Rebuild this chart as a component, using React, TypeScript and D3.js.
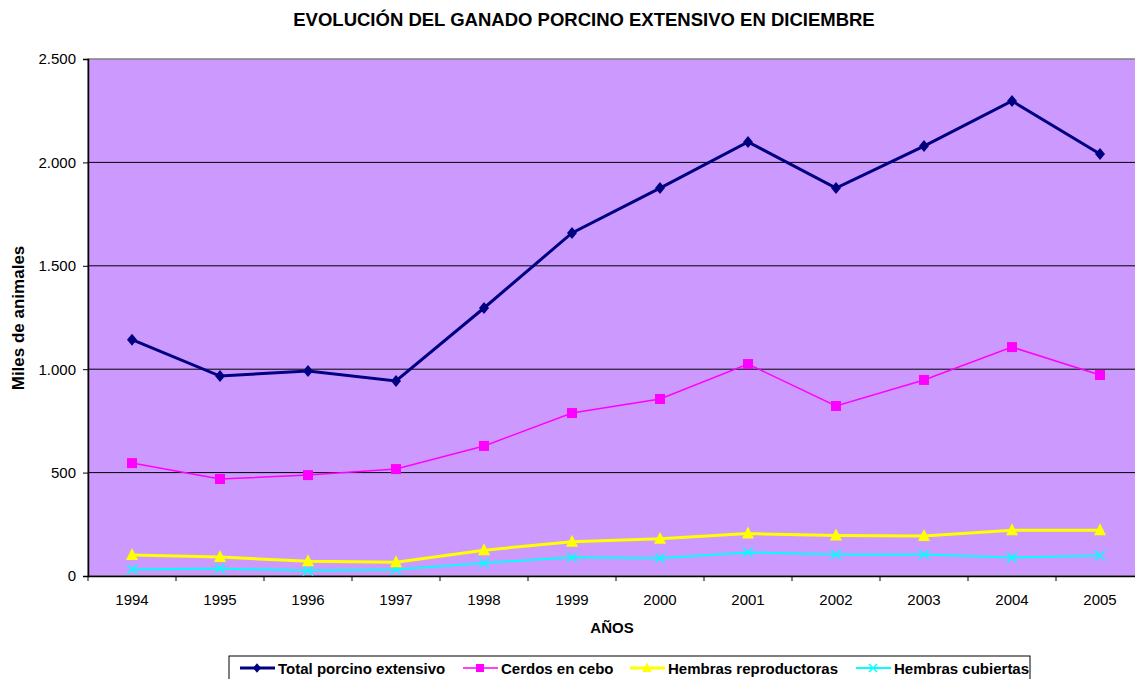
import React, { useEffect, useRef } from "react";
import * as d3 from "d3";

const years = ["1994", "1995", "1996", "1997", "1998", "1999", "2000", "2001", "2002", "2003", "2004", "2005"];
const totalPorcino = [1143, 967, 991, 943, 1296, 1659, 1876, 2099, 1876, 2079, 2297, 2041];
const cerdosCebo = [546, 469, 488, 517, 629, 788, 856, 1025, 822, 948, 1107, 972];
const hembrasRepro = [101, 92, 71, 66, 125, 166, 180, 205, 196, 193, 221, 221];
const hembrasCubiertas = [32, 36, 26, 31, 63, 91, 86, 114, 104, 104, 89, 99];
const yTicks = [0, 500, 1000, 1500, 2000, 2500];

const series = [
  { name: "Total porcino extensivo", values: totalPorcino, color: "#000080", width: 3, marker: "diamond" },
  { name: "Cerdos en cebo", values: cerdosCebo, color: "#FF00FF", width: 1.5, marker: "square" },
  { name: "Hembras reproductoras", values: hembrasRepro, color: "#FFFF00", width: 3, marker: "triangle" },
  { name: "Hembras cubiertas", values: hembrasCubiertas, color: "#00FFFF", width: 2, marker: "x" },
];

const fmt = (d: number) => d3.format(",")(d).replace(/,/g, ".");

function drawMarker(g: any, type: string, x: number, y: number, color: string, size = 1) {
  if (type === "diamond") {
    g.append("path")
      .attr("d", `M${x},${y - 6 * size}L${x + 5 * size},${y}L${x},${y + 6 * size}L${x - 5 * size},${y}Z`)
      .attr("fill", color);
  } else if (type === "square") {
    g.append("rect")
      .attr("x", x - 5 * size).attr("y", y - 5 * size)
      .attr("width", 10 * size).attr("height", 10 * size)
      .attr("fill", color);
  } else if (type === "triangle") {
    g.append("path")
      .attr("d", `M${x},${y - 7 * size}L${x + 6 * size},${y + 5 * size}L${x - 6 * size},${y + 5 * size}Z`)
      .attr("fill", color);
  } else {
    g.append("path")
      .attr("d", `M${x - 5 * size},${y - 5 * size}L${x + 5 * size},${y + 5 * size}M${x - 5 * size},${y + 5 * size}L${x + 5 * size},${y - 5 * size}`)
      .attr("stroke", color).attr("stroke-width", 1.5).attr("fill", "none");
  }
}

export default function App() {
  const svgRef = useRef<SVGSVGElement>(null);

  useEffect(() => {
    const svg = d3.select(svgRef.current);
    svg.selectAll("*").remove();

    const left = 88, top = 59, bottom = 576, right = 1144;
    const font = "'Liberation Sans', Arial, sans-serif";

    const x = d3.scaleBand().domain(years).range([left, right]);
    const y = d3.scaleLinear().domain([0, 2500]).range([bottom, top]);

    svg.append("rect").attr("width", 1135).attr("height", 679).attr("fill", "#fff");

    // title
    svg.append("text")
      .attr("x", 584).attr("y", 26)
      .attr("text-anchor", "middle")
      .attr("font-family", font).attr("font-weight", "bold").attr("font-size", 18.5)
      .text("EVOLUCIÓN DEL GANADO PORCINO EXTENSIVO EN DICIEMBRE");

    // plot area
    svg.append("rect")
      .attr("x", left).attr("y", top)
      .attr("width", right - left).attr("height", bottom - top)
      .attr("fill", "#CC99FF").attr("stroke", "#808080").attr("stroke-width", 1.5);

    // gridlines
    svg.append("g").selectAll("line")
      .data(yTicks.slice(1, -1))
      .join("line")
      .attr("x1", left).attr("x2", right)
      .attr("y1", (d) => y(d)).attr("y2", (d) => y(d))
      .attr("stroke", "#000").attr("stroke-width", 1);

    // y axis
    const yAxis = svg.append("g")
      .attr("transform", `translate(${left},0)`)
      .call(d3.axisLeft(y).tickValues(yTicks).tickSize(5).tickPadding(7).tickFormat((d) => fmt(d as number)));
    yAxis.select(".domain").attr("stroke", "#000").attr("stroke-width", 1.5);
    yAxis.selectAll("text").attr("font-family", font).attr("font-size", 15).attr("fill", "#000");

    // x axis
    const xAxis = svg.append("g")
      .attr("transform", `translate(0,${bottom})`)
      .call(d3.axisBottom(x).tickSize(0).tickPadding(18));
    xAxis.select(".domain").attr("stroke", "#000").attr("stroke-width", 1.5);
    xAxis.selectAll("text").attr("font-family", font).attr("font-size", 15).attr("fill", "#000");
    xAxis.append("g").selectAll("line")
      .data(d3.range(years.length + 1))
      .join("line")
      .attr("x1", (i) => left + i * x.bandwidth()).attr("x2", (i) => left + i * x.bandwidth())
      .attr("y1", 0).attr("y2", 5)
      .attr("stroke", "#000");

    // axis titles
    svg.append("text")
      .attr("x", 612).attr("y", 633)
      .attr("text-anchor", "middle")
      .attr("font-family", font).attr("font-weight", "bold").attr("font-size", 15)
      .text("AÑOS");
    svg.append("text")
      .attr("transform", "translate(24,318) rotate(-90)")
      .attr("text-anchor", "middle")
      .attr("font-family", font).attr("font-weight", "bold").attr("font-size", 17)
      .text("Miles de animales");

    const cx = (i: number) => (x(years[i]) as number) + x.bandwidth() / 2;

    // lines, drawn from back to front
    [...series].reverse().forEach((s) => {
      const line = d3.line<number>().x((_, i) => cx(i)).y((d) => y(d));
      svg.append("path")
        .datum(s.values)
        .attr("fill", "none")
        .attr("stroke", s.color)
        .attr("stroke-width", s.width)
        .attr("d", line);
      const g = svg.append("g");
      s.values.forEach((v, i) => drawMarker(g, s.marker, cx(i), y(v), s.color));
    });

    // legend
    const legend = svg.append("g");
    legend.append("rect")
      .attr("x", 229).attr("y", 656).attr("width", 801).attr("height", 30)
      .attr("fill", "#fff").attr("stroke", "#000").attr("stroke-width", 1);
    const legendX = [240, 463, 630, 856];
    series.forEach((s, i) => {
      const lx = legendX[i];
      const ly = 668;
      legend.append("line")
        .attr("x1", lx).attr("x2", lx + 35).attr("y1", ly).attr("y2", ly)
        .attr("stroke", s.color).attr("stroke-width", s.width);
      drawMarker(legend, s.marker, lx + 17, ly, s.color, 0.8);
      legend.append("text")
        .attr("x", lx + 38).attr("y", ly + 6)
        .attr("font-family", font).attr("font-weight", "bold").attr("font-size", 15)
        .text(s.name);
    });
  }, []);

  return <svg ref={svgRef} width={1135} height={679} style={{ position: "absolute", left: 0, top: 0 }} />;
}
